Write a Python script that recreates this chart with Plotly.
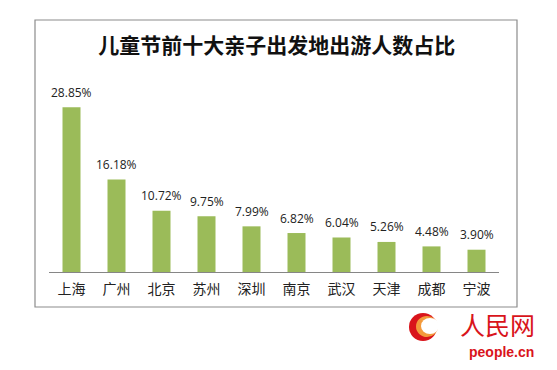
import plotly.graph_objects as go

cities = ["上海", "广州", "北京", "苏州", "深圳", "南京", "武汉", "天津", "成都", "宁波"]
shares = [28.85, 16.18, 10.72, 9.75, 7.99, 6.82, 6.04, 5.26, 4.48, 3.90]
title_text = "儿童节前十大亲子出发地出游人数占比"

W, H = 557, 370
L, R, T, B = 49, 58, 72, 98
PW, PH = W - L - R, H - T - B

def px(x):
    return (x - L) / PW

def py(y):
    return (H - B - y) / PH

fig = go.Figure()
fig.add_trace(go.Bar(
    x=cities, y=shares, width=0.4,
    marker=dict(color="#9BBB59", line=dict(width=0)),
    hoverinfo="skip",
))

for c, v in zip(cities, shares):
    fig.add_annotation(x=c, y=v, text=f"{v:.2f}%", showarrow=False,
                       yshift=15, font=dict(size=12, color="#222222",
                                            family="Open Sans, Liberation Sans, sans-serif"))

shapes = [
    dict(type="rect", xref="paper", yref="paper", x0=px(35), x1=px(517),
         y0=py(307), y1=py(20), line=dict(color="#8c8c8c", width=1.2),
         fillcolor="rgba(0,0,0,0)", layer="below"),
    # logo
    dict(type="circle", xref="paper", yref="paper", x0=px(409), x1=px(437),
         y0=py(341), y1=py(313), fillcolor="#d9141b", line=dict(width=0)),
    dict(type="circle", xref="paper", yref="paper", x0=px(416), x1=px(438),
         y0=py(337), y1=py(316), fillcolor="#f39a3c", line=dict(width=0)),
    dict(type="circle", xref="paper", yref="paper", x0=px(421), x1=px(439),
         y0=py(334), y1=py(318), fillcolor="white", line=dict(width=0)),
]

fig.add_annotation(xref="paper", yref="paper", x=px(497), y=py(324),
                   text="人民网", showarrow=False,
                   font=dict(size=25, color="#d9141b", family="Noto Sans CJK SC"),
                   xanchor="center", yanchor="middle")
fig.add_annotation(xref="paper", yref="paper", x=px(501), y=py(352),
                   text="<b>people.cn</b>", showarrow=False,
                   font=dict(size=14, color="#d9141b", family="Liberation Sans, Arial"),
                   xanchor="center", yanchor="middle")

fig.update_layout(
    width=W, height=H,
    margin=dict(l=L, r=R, t=T, b=B),
    paper_bgcolor="white", plot_bgcolor="white",
    showlegend=False,
    shapes=shapes,
    title=dict(text="<b>" + title_text + "</b>", xref="container", yref="container",
               x=0.497, y=1 - 46 / H, xanchor="center", yanchor="middle",
               font=dict(size=21, color="#111111", family="Noto Sans CJK SC")),
    xaxis=dict(showline=True, linecolor="#868686", linewidth=1,
               ticks="outside", ticklen=4, tickcolor="rgba(0,0,0,0)",
               tickfont=dict(size=14, color="#222222", family="Noto Sans CJK SC"),
               showgrid=False, fixedrange=True),
    yaxis=dict(range=[0, 35], visible=False, showgrid=False, fixedrange=True),
)

fig.write_html("out.html", config={"displayModeBar": False},
               post_script="document.body.style.margin='0';document.body.style.padding='0';")
